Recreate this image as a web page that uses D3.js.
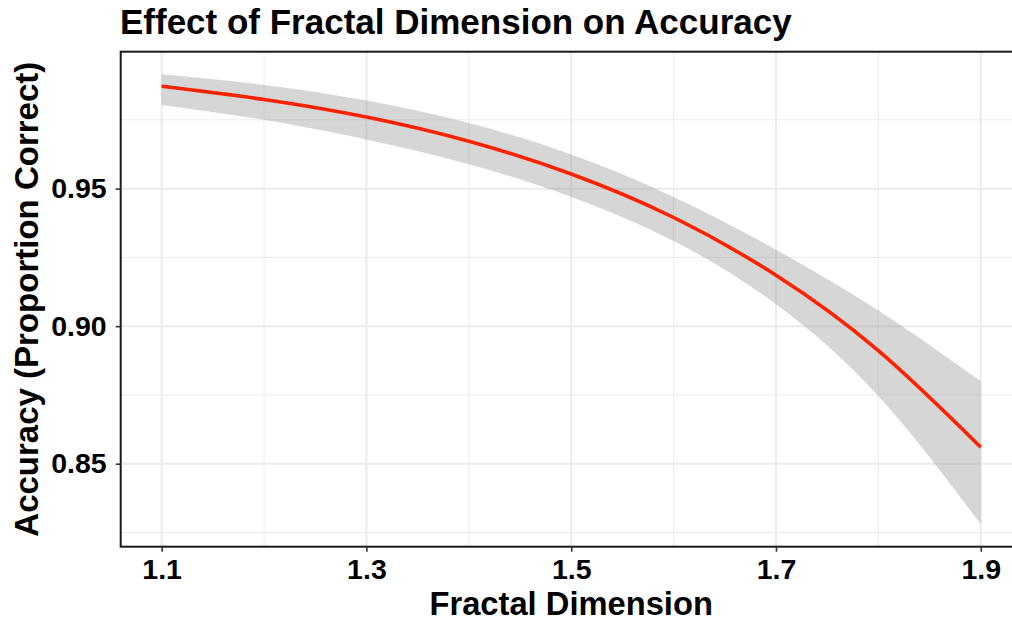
<!DOCTYPE html>
<html>
<head>
<meta charset="utf-8">
<script src="https://cdn.jsdelivr.net/npm/d3@7"></script>
<style>
  html, body { margin: 0; padding: 0; background: #fff; }
  svg { display: block; }
  text { font-family: "Liberation Sans", Arial, Helvetica, sans-serif; font-weight: bold; fill: #000; }
</style>
</head>
<body>
<svg id="chart" width="1012" height="623"></svg>
<script>
// ---- data ----
const fractalDim = [1.1, 1.2, 1.3, 1.4, 1.5, 1.6, 1.7, 1.8, 1.9];
const fitAccuracy = [0.9872, 0.9824, 0.9760, 0.9672, 0.9553, 0.9395, 0.9185, 0.8911, 0.8560];
const upperCI = [0.9916, 0.9877, 0.9820, 0.9739, 0.9624, 0.9470, 0.9278, 0.9057, 0.8800];
const lowerCI = [0.9804, 0.9750, 0.9679, 0.9589, 0.9470, 0.9310, 0.9080, 0.8746, 0.8280];
const xTicks = [1.1, 1.3, 1.5, 1.7, 1.9];
const xMinor = [1.2, 1.4, 1.6, 1.8];
const yTicks = [0.85, 0.90, 0.95];
const yMinor = [0.825, 0.875, 0.925, 0.975];
const titleText = "Effect of Fractal Dimension on Accuracy";
const xTitle = "Fractal Dimension";
const yTitle = "Accuracy (Proportion Correct)";

const rows = fractalDim.map((x, i) => ({x, y: fitAccuracy[i], lo: lowerCI[i], hi: upperCI[i]}));

const svg = d3.select("#chart");
const panel = {left: 120.7, top: 51.7, right: 1021.7, bottom: 546.7};

const xr = d3.extent(fractalDim), xe = (xr[1] - xr[0]) * 0.05;
const yr = [d3.min(lowerCI), d3.max(upperCI)], ye = (yr[1] - yr[0]) * 0.05;
const x = d3.scaleLinear().domain([xr[0] - xe, xr[1] + xe]).range([panel.left, panel.right]);
const y = d3.scaleLinear().domain([yr[0] - ye, yr[1] + ye]).range([panel.bottom, panel.top]);

// grid
const grid = svg.append("g");
grid.selectAll(".ymin").data(yMinor).join("line")
  .attr("x1", panel.left).attr("x2", panel.right)
  .attr("y1", d => y(d)).attr("y2", d => y(d))
  .attr("stroke", "#ebebeb").attr("stroke-width", 1);
grid.selectAll(".xmin").data(xMinor).join("line")
  .attr("y1", panel.top).attr("y2", panel.bottom)
  .attr("x1", d => x(d)).attr("x2", d => x(d))
  .attr("stroke", "#ebebeb").attr("stroke-width", 1);
grid.selectAll(".ymaj").data(yTicks).join("line")
  .attr("x1", panel.left).attr("x2", panel.right)
  .attr("y1", d => y(d)).attr("y2", d => y(d))
  .attr("stroke", "#ebebeb").attr("stroke-width", 2);
grid.selectAll(".xmaj").data(xTicks).join("line")
  .attr("y1", panel.top).attr("y2", panel.bottom)
  .attr("x1", d => x(d)).attr("x2", d => x(d))
  .attr("stroke", "#ebebeb").attr("stroke-width", 2);

// ribbon
const area = d3.area().x(d => x(d.x)).y0(d => y(d.lo)).y1(d => y(d.hi)).curve(d3.curveNatural);
svg.append("path").datum(rows).attr("d", area)
  .attr("fill", "#999999").attr("fill-opacity", 0.4);

// line
const line = d3.line().x(d => x(d.x)).y(d => y(d.y)).curve(d3.curveNatural);
svg.append("path").datum(rows).attr("d", line)
  .attr("fill", "none").attr("stroke", "#ff2200").attr("stroke-width", 3.6);

// panel border
svg.append("rect")
  .attr("x", panel.left).attr("y", panel.top)
  .attr("width", panel.right - panel.left).attr("height", panel.bottom - panel.top)
  .attr("fill", "none").attr("stroke", "#1a1a1a").attr("stroke-width", 2);

// axes
const xAxis = d3.axisBottom(x).tickValues(xTicks).tickFormat(d3.format(".1f")).tickSize(5);
const gx = svg.append("g").attr("transform", `translate(0,${panel.bottom})`).call(xAxis);
gx.select(".domain").remove();
gx.selectAll(".tick line").attr("stroke", "#333").attr("stroke-width", 1.6);
gx.selectAll(".tick text").attr("font-size", 28.5).attr("fill", "#000").attr("y", 32).attr("dy", 0)
  .style("font-family", "'Liberation Sans', Arial, sans-serif").style("font-weight", "bold");

const yAxis = d3.axisLeft(y).tickValues(yTicks).tickFormat(d3.format(".2f")).tickSize(5).tickPadding(9);
const gy = svg.append("g").attr("transform", `translate(${panel.left},0)`).call(yAxis);
gy.select(".domain").remove();
gy.selectAll(".tick line").attr("stroke", "#333").attr("stroke-width", 1.6);
gy.selectAll(".tick text").attr("font-size", 28.5).attr("fill", "#000")
  .style("font-family", "'Liberation Sans', Arial, sans-serif").style("font-weight", "bold");

// titles
svg.append("text").attr("x", 120).attr("y", 34).attr("font-size", 35).text(titleText);
svg.append("text").attr("x", (panel.left + panel.right) / 2).attr("y", 615)
  .attr("text-anchor", "middle").attr("font-size", 32.7).text(xTitle);
svg.append("text").attr("transform", `translate(38,${(panel.top + panel.bottom) / 2}) rotate(-90)`)
  .attr("text-anchor", "middle").attr("font-size", 33).text(yTitle);
</script>
</body>
</html>
